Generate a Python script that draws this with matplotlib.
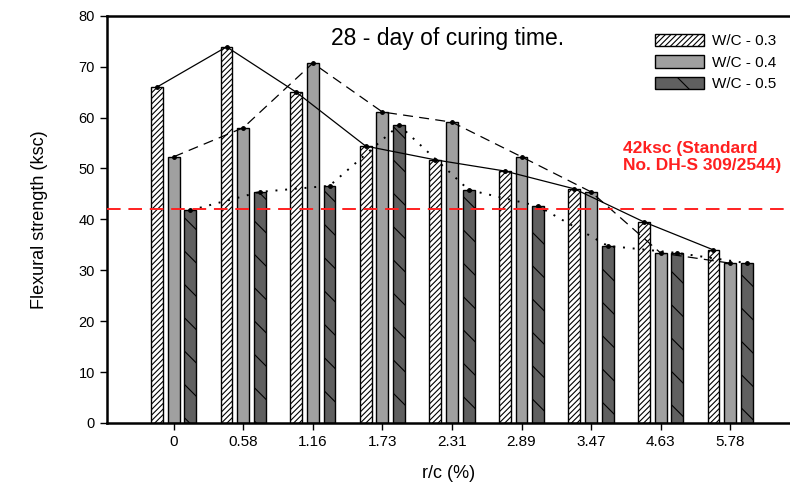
import matplotlib.pyplot as plt
import numpy as np

plt.rcParams['font.family'] = ['Liberation Sans', 'DejaVu Sans']
plt.rcParams['hatch.linewidth'] = 0.8

ratios = ['0', '0.58', '1.16', '1.73', '2.31', '2.89', '3.47', '4.63', '5.78']
wc03 = [66.0, 73.9, 65.0, 54.4, 51.7, 49.5, 46.0, 39.5, 34.0]
wc04 = [52.3, 58.0, 70.7, 61.1, 59.1, 52.3, 45.4, 33.4, 31.4]
wc05 = [41.8, 45.4, 46.6, 58.5, 45.8, 42.6, 34.8, 33.4, 31.4]
standard = 42

x = np.arange(len(ratios))
w = 0.17
off = 0.24

fig = plt.figure(figsize=(7.9, 4.93), dpi=100)
ax = fig.add_axes([0.135, 0.142, 0.865, 0.826])

ax.bar(x - off, wc03, w, color='white', edgecolor='black', hatch='//////', lw=1, label='W/C - 0.3')
ax.bar(x, wc04, w, color='#a0a0a0', edgecolor='black', lw=1, label='W/C - 0.4')
ax.bar(x + off, wc05, w, color='#606060', edgecolor='black', hatch='\\', lw=1, label='W/C - 0.5')

# trend lines over the bar tops
ax.plot(x - off, wc03, '-', color='black', lw=0.9, marker='o', ms=2.5)
ax.plot(x, wc04, color='black', lw=0.9, ls=(0, (8, 5)), marker='o', ms=2.5)
ax.plot(x + off, wc05, color='black', lw=1.4, ls=(0, (1, 4)), marker='o', ms=2.5)

ax.axhline(standard, color='#ff2020', lw=1.4, ls=(0, (7, 4)), zorder=5)
ax.text(6.46, 52.3, '42ksc (Standard\nNo. DH-S 309/2544)', color='#ff2020',
        fontsize=12.5, fontweight='bold', ha='left', va='center', linespacing=1.15)

ax.text(3.93, 75.5, '28 - day of curing time.', fontsize=16.5, ha='center', va='center')

ax.set_xlim(-0.964, 8.86)
ax.set_ylim(0, 80)
ax.set_xticks(x)
ax.set_xticklabels(ratios, fontsize=11)
ax.set_yticks(np.arange(0, 81, 10))
ax.tick_params(axis='y', labelsize=10.5, direction='out', length=5, width=1)
ax.tick_params(axis='x', direction='out', length=5, width=1)
ax.set_ylabel('Flexural strength (ksc)', fontsize=13, labelpad=22)
ax.set_xlabel('r/c (%)', fontsize=13, labelpad=12)

ax.spines['right'].set_visible(False)
for s in ['left', 'bottom', 'top']:
    ax.spines[s].set_linewidth(1.8)

ax.legend(loc='upper right', bbox_to_anchor=(1.0, 0.99), frameon=False, fontsize=11,
          handlelength=3.2, handleheight=0.9, handletextpad=0.5, labelspacing=0.45)

fig.savefig('out.png', dpi=100)
